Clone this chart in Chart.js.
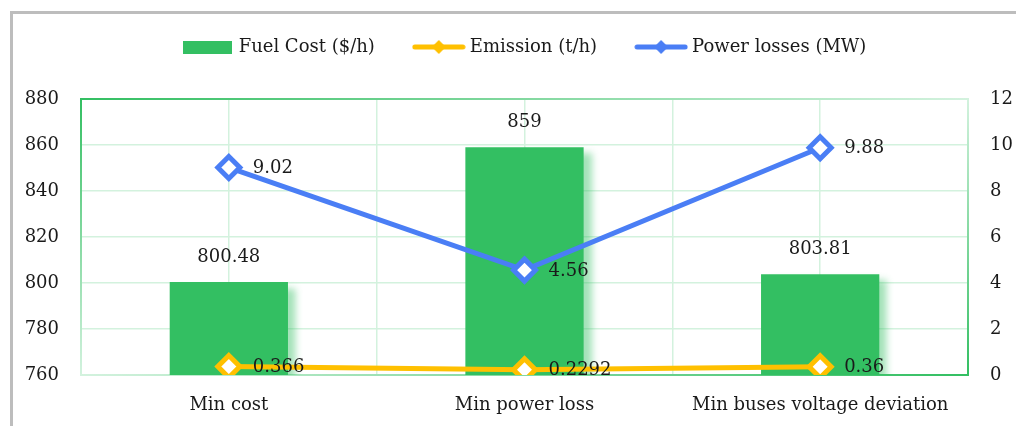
<!DOCTYPE html>
<html>
<head>
<meta charset="utf-8">
<script src="https://cdn.jsdelivr.net/npm/chart.js@4.4.1/dist/chart.umd.min.js"></script>
<style>
  html, body { margin: 0; padding: 0; background: #fff; overflow: hidden; }
  #wrap { position: relative; width: 1016px; height: 426px; }
  #frame { position: absolute; left: 10px; top: 11px; width: 1100px; height: 500px;
           border: 3px solid #bdbdbd; box-sizing: border-box; }
  #chart { position: absolute; left: 0; top: 0; }
</style>
</head>
<body>
<div id="wrap">
  <div id="frame"></div>
  <canvas id="chart" width="1016" height="426"></canvas>
</div>
<script>
// Chart data
const categories = ['Min cost', 'Min power loss', 'Min buses voltage deviation'];
const fuelCost = [800.48, 859, 803.81];      // $/h, left axis
const emission = [0.366, 0.2292, 0.36];      // t/h, right axis
const powerLosses = [9.02, 4.56, 9.88];      // MW, right axis
const costTicks = [760, 880, 20];            // min, max, step
const rightTicks = [0, 12, 2];

const GREEN = '#33bf62';
const YELLOW = '#ffc000';
const BLUE = '#4a7ef5';
const GRID = '#d3f2de';
const FONT = { family: '"DejaVu Serif", serif', size: 18 };

// legend swatches: green box for bars, line with diamond for lines
function barSwatch(color) {
    const c = document.createElement('canvas');
    c.width = 49; c.height = 13;
    const g = c.getContext('2d');
    g.fillStyle = color;
    g.fillRect(0, 0, 49, 13);
    return c;
}
function lineSwatch(color) {
    const c = document.createElement('canvas');
    c.width = 54; c.height = 16;
    const g = c.getContext('2d');
    g.strokeStyle = color;
    g.lineWidth = 5;
    g.lineCap = 'round';
    g.beginPath(); g.moveTo(3, 8); g.lineTo(51, 8); g.stroke();
    g.fillStyle = color;
    g.beginPath(); g.moveTo(27, 1); g.lineTo(34, 8); g.lineTo(27, 15); g.lineTo(20, 8); g.closePath(); g.fill();
    return c;
}
const swatches = [barSwatch(GREEN), lineSwatch(YELLOW), lineSwatch(BLUE)];

// nudge the centred legend a bit to the right, like the original
const legendShift = {
    id: 'legendShift',
    beforeDraw(chart) {
        if (chart.legend) chart.legend.left = 36;
    }
};

// plot border: dark green at top-left and bottom-right corners, pale in between
const plotBorder = {
    id: 'plotBorder',
    beforeDatasetsDraw(chart) {
        const { ctx, chartArea: a } = chart;
        const dark = '#33bf62', pale = '#d3f2de';
        function edge(x1, y1, x2, y2, c1, c2) {
            const g = ctx.createLinearGradient(x1, y1, x2, y2);
            g.addColorStop(0, c1);
            g.addColorStop(1, c2);
            ctx.strokeStyle = g;
            ctx.beginPath(); ctx.moveTo(x1, y1); ctx.lineTo(x2, y2); ctx.stroke();
        }
        ctx.save();
        ctx.lineWidth = 2;
        ctx.lineCap = 'square';
        edge(a.left, a.top, a.right, a.top, dark, pale);
        edge(a.left, a.top, a.left, a.bottom, dark, pale);
        edge(a.right, a.top, a.right, a.bottom, pale, dark);
        edge(a.left, a.bottom, a.right, a.bottom, pale, dark);
        ctx.restore();
    }
};

// soft glow on the right of the bars
const barShadow = {
    id: 'barShadow',
    beforeDatasetDraw(chart, args) {
        if (args.meta.type !== 'bar') return;
        const ctx = chart.ctx;
        ctx.save();
        ctx.shadowColor = 'rgba(51,191,98,0.45)';
        ctx.shadowBlur = 7;
        ctx.shadowOffsetX = 8;
        ctx.shadowOffsetY = 6;
    },
    afterDatasetDraw(chart, args) {
        if (args.meta.type !== 'bar') return;
        chart.ctx.restore();
    }
};

// value labels
const valueLabels = {
    id: 'valueLabels',
    afterDatasetsDraw(chart) {
        const ctx = chart.ctx;
        ctx.save();
        ctx.font = FONT.size + 'px ' + FONT.family;
        ctx.fillStyle = '#1a1a1a';
        ctx.textBaseline = 'middle';
        chart.data.datasets.forEach((ds, i) => {
            const meta = chart.getDatasetMeta(i);
            meta.data.forEach((el, j) => {
                const txt = String(ds.data[j]);
                if (meta.type === 'bar') {
                    ctx.textAlign = 'center';
                    ctx.fillText(txt, el.x, el.y - 25);
                } else {
                    ctx.textAlign = 'left';
                    ctx.fillText(txt, el.x + 24, el.y + 1);
                }
            });
        });
        ctx.restore();
    }
};

Chart.defaults.font.family = FONT.family;
Chart.defaults.font.size = FONT.size;
Chart.defaults.color = '#1a1a1a';

new Chart(document.getElementById('chart'), {
    type: 'bar',
    data: {
        labels: categories,
        datasets: [
            {
                label: 'Fuel Cost ($/h)',
                data: fuelCost,
                backgroundColor: GREEN,
                yAxisID: 'y',
                categoryPercentage: 1,
                barPercentage: 0.4,
                order: 3
            },
            {
                type: 'line',
                label: 'Emission (t/h)',
                data: emission,
                borderColor: YELLOW,
                borderWidth: 5,
                pointStyle: 'rectRot',
                pointRadius: 11,
                pointBorderWidth: 5,
                pointBackgroundColor: '#fff',
                pointBorderColor: YELLOW,
                yAxisID: 'y2',
                order: 2
            },
            {
                type: 'line',
                label: 'Power losses (MW)',
                data: powerLosses,
                borderColor: BLUE,
                borderWidth: 5,
                pointStyle: 'rectRot',
                pointRadius: 11,
                pointBorderWidth: 5,
                pointBackgroundColor: '#fff',
                pointBorderColor: BLUE,
                yAxisID: 'y2',
                order: 1
            }
        ]
    },
    options: {
        responsive: false,
        animation: false,
        layout: { padding: { top: -4, left: 0, right: 0, bottom: 0 } },
        plugins: {
            legend: {
                display: true,
                position: 'top',
                labels: {
                    usePointStyle: true,
                    pointStyleWidth: 44,
                    padding: 42,
                    color: '#1a1a1a',
                    font: FONT,
                    generateLabels: function(chart) {
                        return chart.data.datasets.map((ds, i) => ({
                            text: ds.label,
                            pointStyle: swatches[i],
                            datasetIndex: i,
                            fontColor: '#1a1a1a',
                            lineWidth: 0,
                            hidden: false
                        }));
                    }
                }
            },
            tooltip: { enabled: false }
        },
        scales: {
            x: {
                offset: true,
                grid: { offset: true, color: GRID, lineWidth: 1.5, drawTicks: false },
                border: { display: false },
                ticks: { padding: 20, font: FONT, color: '#1a1a1a' },
                afterFit: function(scale) { scale.height = 51; }
            },
            x2: {
                type: 'category',
                labels: categories,
                position: 'top',
                offset: true,
                grid: { offset: false, color: GRID, lineWidth: 1.5, drawTicks: false },
                border: { display: false },
                ticks: { display: false },
                afterFit: function(scale) { scale.height = 33; }
            },
            y: {
                position: 'left',
                min: costTicks[0],
                max: costTicks[1],
                ticks: { stepSize: costTicks[2], padding: 22, font: FONT, color: '#1a1a1a' },
                grid: { color: GRID, lineWidth: 1.5, drawTicks: false },
                border: { display: false },
                afterFit: function(scale) { scale.width = 81; }
            },
            y2: {
                position: 'right',
                min: rightTicks[0],
                max: rightTicks[1],
                ticks: { stepSize: rightTicks[2], padding: 22, font: FONT, color: '#1a1a1a' },
                grid: { display: false, drawTicks: false },
                border: { display: false },
                afterFit: function(scale) { scale.width = 48; }
            }
        }
    },
    plugins: [legendShift, plotBorder, barShadow, valueLabels]
});
</script>
</body>
</html>
